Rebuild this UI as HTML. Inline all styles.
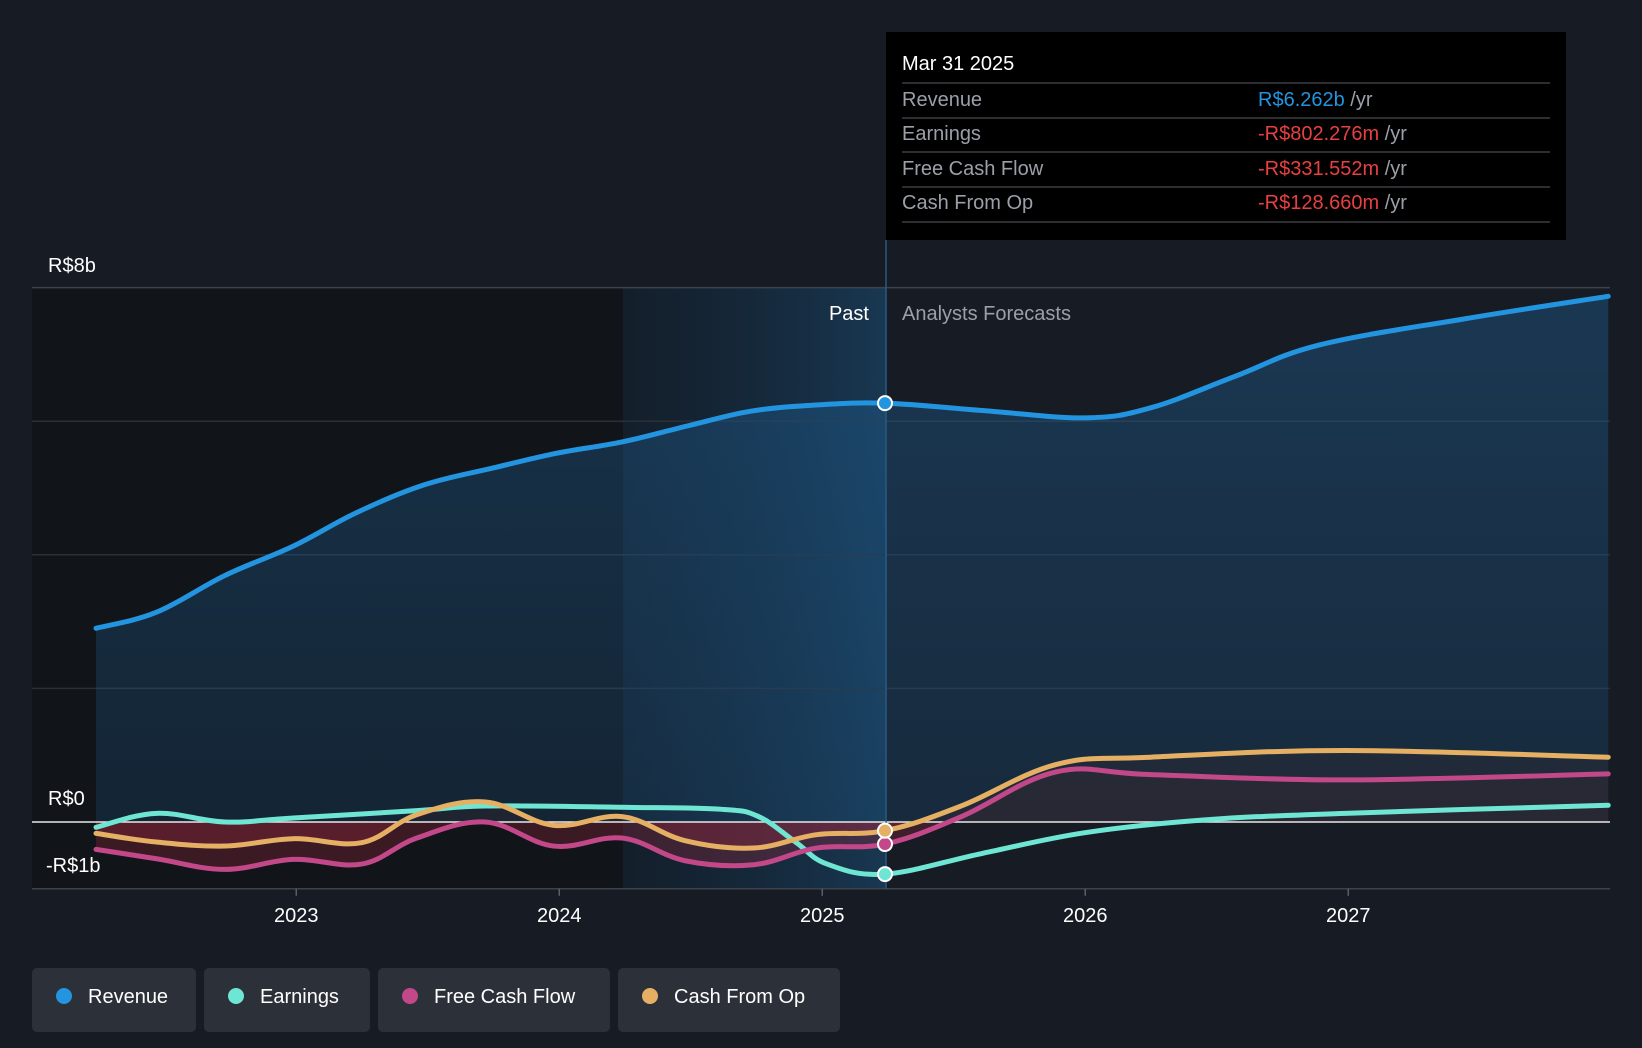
<!DOCTYPE html>
<html><head><meta charset="utf-8"><style>
html,body{margin:0;padding:0;background:#151a23;}
body{width:1642px;height:1048px;overflow:hidden;font-family:"Liberation Sans",sans-serif;}
svg{display:block}
</style></head><body>
<svg id="chart" width="1642" height="1048" viewBox="0 0 1642 1048">
<defs>
<linearGradient id="revG" x1="0" y1="0" x2="0" y2="1"><stop offset="0" stop-color="#1f5f93" stop-opacity="0.42"/><stop offset="1" stop-color="#1f5f93" stop-opacity="0.22"/></linearGradient>
<linearGradient id="hl" x1="0" y1="0" x2="1" y2="0"><stop offset="0" stop-color="#0e2a40" stop-opacity="0.25"/><stop offset="1" stop-color="#1a4f78" stop-opacity="0.55"/></linearGradient>
<clipPath id="below"><rect x="0" y="822" width="1642" height="100"/></clipPath>
<clipPath id="above"><rect x="0" y="0" width="1642" height="822"/></clipPath>
</defs>
<rect x="0" y="0" width="1642" height="1048" fill="#161b24"/>
<rect x="32" y="288" width="591" height="601" fill="#111419"/>
<rect x="623" y="288" width="263" height="601" fill="url(#hl)"/>
<g id="grid"></g>
<g id="fills"></g>
<g id="lines"></g>
<g id="axis"></g>
<text x="48" y="272" fill="#fff" font-size="20">R$8b</text>
<text x="48" y="805" fill="#fff" font-size="20">R$0</text>
<text x="46" y="872" fill="#fff" font-size="20">-R$1b</text>
<text x="869" y="320" fill="#fff" font-size="20" text-anchor="end">Past</text>
<text x="902" y="320" fill="#9ba0a8" font-size="20">Analysts Forecasts</text>
<line x1="886" y1="240" x2="886" y2="889" stroke="#2a5a80" stroke-width="1.5"/>
<g>
<rect x="886" y="32" width="680" height="208" fill="#000"/>
<text x="902" y="70" fill="#fff" font-size="20">Mar 31 2025</text>
<g stroke="#3a3d42" stroke-width="1.5"><line x1="902" y1="83" x2="1550" y2="83"/><line x1="902" y1="118" x2="1550" y2="118"/><line x1="902" y1="152" x2="1550" y2="152"/><line x1="902" y1="187" x2="1550" y2="187"/><line x1="902" y1="222" x2="1550" y2="222"/></g>
<g font-size="20" fill="#9ba0a8">
<text x="902" y="106">Revenue</text><text x="902" y="140">Earnings</text><text x="902" y="175">Free Cash Flow</text><text x="902" y="209">Cash From Op</text>
</g>
<g font-size="20">
<text x="1258" y="106"><tspan fill="#2394df">R$6.262b</tspan><tspan fill="#9ba0a8"> /yr</tspan></text>
<text x="1258" y="140"><tspan fill="#e84040">-R$802.276m</tspan><tspan fill="#9ba0a8"> /yr</tspan></text>
<text x="1258" y="175"><tspan fill="#e84040">-R$331.552m</tspan><tspan fill="#9ba0a8"> /yr</tspan></text>
<text x="1258" y="209"><tspan fill="#e84040">-R$128.660m</tspan><tspan fill="#9ba0a8"> /yr</tspan></text>
</g>
</g>
<g id="dots"></g>
<g>
<g><rect x="32" y="968" width="164" height="64" rx="5" fill="#2c3039"/><circle cx="64" cy="996" r="8" fill="#2394df"/><text x="88" y="1003" fill="#fff" font-size="20">Revenue</text></g>
<g><rect x="204" y="968" width="166" height="64" rx="5" fill="#2c3039"/><circle cx="236" cy="996" r="8" fill="#6ee6d3"/><text x="260" y="1003" fill="#fff" font-size="20">Earnings</text></g>
<g><rect x="378" y="968" width="232" height="64" rx="5" fill="#2c3039"/><circle cx="410" cy="996" r="8" fill="#c2488a"/><text x="434" y="1003" fill="#fff" font-size="20">Free Cash Flow</text></g>
<g><rect x="618" y="968" width="222" height="64" rx="5" fill="#2c3039"/><circle cx="650" cy="996" r="8" fill="#e6b064"/><text x="674" y="1003" fill="#fff" font-size="20">Cash From Op</text></g>
</g>
</svg>
<script>
const revYears=[2022.25,2022.48,2022.74,2023.0,2023.24,2023.5,2023.76,2024.0,2024.25,2024.5,2024.74,2024.98,2025.25,2025.62,2026.01,2026.26,2026.58,2026.9,2027.45,2028.0];
const revenue=[2.9,3.14,3.69,4.13,4.63,5.05,5.3,5.52,5.69,5.93,6.15,6.24,6.27,6.16,6.05,6.2,6.67,7.14,7.53,7.87];
const earnYears=[2022.25,2022.48,2022.74,2023.0,2023.47,2023.73,2024.25,2024.63,2024.77,2024.91,2025.03,2025.25,2025.62,2026.01,2026.46,2027.0,2028.0];
const earnings=[-0.08,0.13,0,0.06,0.17,0.24,0.22,0.19,0.08,-0.3,-0.63,-0.78,-0.47,-0.16,0.03,0.13,0.25];
const cfYears=[2022.25,2022.48,2022.74,2023.0,2023.26,2023.47,2023.73,2023.99,2024.25,2024.49,2024.75,2024.99,2025.25,2025.54,2025.9,2026.26,2027.0,2028.0];
const fcf=[-0.41,-0.55,-0.71,-0.56,-0.63,-0.24,0,-0.36,-0.24,-0.58,-0.64,-0.39,-0.33,0.08,0.75,0.71,0.63,0.72];
const cfo=[-0.17,-0.3,-0.36,-0.25,-0.31,0.11,0.3,-0.05,0.08,-0.28,-0.39,-0.19,-0.13,0.24,0.86,0.97,1.07,0.97];
const xTicks=[2023,2024,2025,2026,2027];
const gridVals=[8,6,4,2];
const nowYear=2025.25;
const NS="http://www.w3.org/2000/svg";
const xS=y=>96+(y-2022.25)*263;
const xT=y=>99+(y-2022.25)*263;
const yS=v=>822-v*66.8;
function mk(tag,attrs,parent){const e=document.createElementNS(NS,tag);for(const k in attrs)e.setAttribute(k,attrs[k]);parent.appendChild(e);return e;}
function path(xs,vs){const p=xs.map((x,i)=>[xS(x),yS(vs[i])]);let d="M"+p[0][0]+","+p[0][1];
for(let i=0;i<p.length-1;i++){const p0=p[i-1]||p[i],p1=p[i],p2=p[i+1],p3=p[i+2]||p2;const t=0.18;
d+=" C"+(p1[0]+(p2[0]-p0[0])*t)+","+(p1[1]+(p2[1]-p0[1])*t)+" "+(p2[0]-(p3[0]-p1[0])*t)+","+(p2[1]-(p3[1]-p1[1])*t)+" "+p2[0]+","+p2[1];}return d;}
const grid=document.getElementById('grid');
gridVals.forEach(v=>{const l=mk('line',{x1:32,x2:1610,y1:yS(v),y2:yS(v),stroke:v==8?'#3d424b':'#2a2f38','stroke-width':1.5},grid);

});
const bl=mk('line',{x1:32,x2:1610,y1:yS(-1),y2:yS(-1),stroke:'#3d424b','stroke-width':1.5},grid);


const fills=document.getElementById('fills');
const rp=path(revYears,revenue);
const ra=mk('path',{d:rp+" L"+xS(revYears[revYears.length-1])+","+yS(0)+" L"+xS(revYears[0])+","+yS(0)+"Z",fill:'url(#revG)'},fills);


[[fcf,'rgba(150,40,60,0.33)'],[cfo,'rgba(150,40,60,0.33)']].forEach(([s,c])=>{const p=path(cfYears,s);
const a=mk('path',{d:p+" L"+xS(2028)+","+yS(0)+" L"+xS(2022.25)+","+yS(0)+"Z",fill:c,'clip-path':'url(#below)'},fills);


const b=mk('path',{d:p+" L"+xS(2028)+","+yS(0)+" L"+xS(2022.25)+","+yS(0)+"Z",fill:'rgba(60,40,40,0.25)','clip-path':'url(#above)'},fills);

});
const zl=mk('line',{x1:32,x2:1610,y1:yS(0),y2:yS(0),stroke:'#e8e8e8','stroke-width':1.5},fills);


const lines=document.getElementById('lines');
[[revYears,revenue,'#2394df','revenue-line'],[earnYears,earnings,'#6ee6d3','earnings-line'],[cfYears,fcf,'#c2488a','free-cash-flow-line'],[cfYears,cfo,'#e6b064','cash-from-op-line']].forEach(([xs,vs,c,n])=>{
const l=mk('path',{d:path(xs,vs),fill:'none',stroke:c,'stroke-width':5,'stroke-linecap':'round'},lines);

});
const axis=document.getElementById('axis');
xTicks.forEach(t=>{const tk=mk('line',{x1:xT(t),x2:xT(t),y1:yS(-1),y2:yS(-1)+7,stroke:'#5a5f66','stroke-width':1.5},axis);


const tx=mk('text',{x:xT(t),y:922,fill:'#fff','font-size':20,'text-anchor':'middle'},axis);tx.textContent=t;

});
const dots=document.getElementById('dots');
[[revenue[revYears.indexOf(nowYear)],'#2394df'],[earnings[earnYears.indexOf(nowYear)],'#6ee6d3'],[fcf[cfYears.indexOf(nowYear)],'#c2488a'],[cfo[cfYears.indexOf(nowYear)],'#e6b064']].forEach(([v,c])=>{
const d=mk('circle',{cx:xS(nowYear),cy:yS(v),r:7,fill:c,stroke:'#fff','stroke-width':2},dots);

});
</script>
</body></html>
